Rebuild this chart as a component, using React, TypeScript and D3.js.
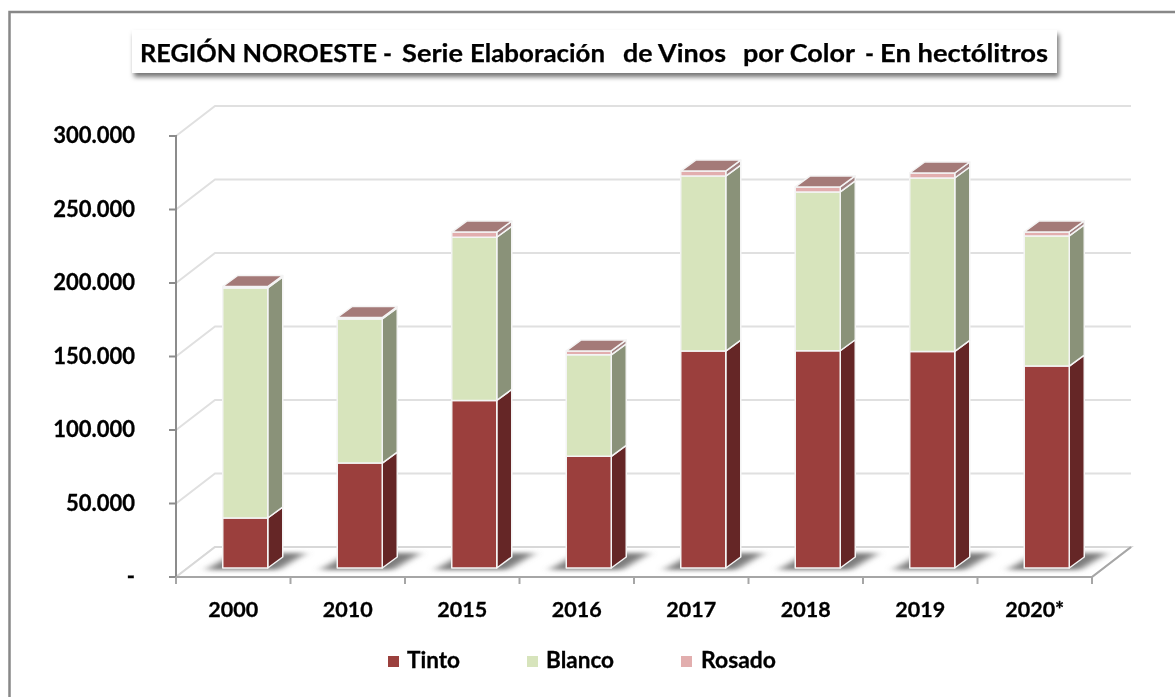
import React from "react";
import * as d3 from "d3";

const categories = ["2000", "2010", "2015", "2016", "2017", "2018", "2019", "2020*"];
const tinto = [34000, 71400, 114000, 76000, 147600, 147800, 147300, 137400];
const blanco = [156500, 98000, 111000, 69000, 119000, 108000, 118000, 88500];
const rosado = [1000, 1000, 3500, 2700, 3400, 3400, 3400, 2700];
const seriesNames = ["Tinto", "Blanco", "Rosado"];
const frontColors = ["#9b3f3d", "#d7e4bc", "#e2aeae"];
const sideColors = ["#652626", "#8a9279", "#a08080"];
const topColors = ["#a47a78", "#a47a78", "#a47a78"];
const yTicks = [0, 50000, 100000, 150000, 200000, 250000, 300000];
const yTickLabels = ["-", "50.000", "100.000", "150.000", "200.000", "250.000", "300.000"];
const titleParts = ["REGIÓN NOROESTE", "-", "Serie", "Elaboración", "de Vinos", "por Color", "-", "En hectólitros"];
const titlePartStart = [140, 383, 402, 470, 623, 743, 865, 880];
const titlePartEnd = [377, 392, 463, 605, 726, 855, 874, 1048];

const depthX = 39;
const depthY = -30;
const barDepthX = 15;
const barDepthY = -11;
const barShiftY = -9;
const barWidth = 45;
const barShiftX = 12;
const FONT = "Lato, sans-serif";

export default function App() {
  const x = d3.scaleBand<string>().domain(categories).range([176, 1092]);
  const y = d3.scaleLinear().domain([0, 300000]).range([577, 136]);
  const pts = (p: number[][]) => p.map((d) => d.join(",")).join(" ");
  const stack = d3
    .stack<number>()
    .keys(["0", "1", "2"])
    .value((i, k) => [tinto, blanco, rosado][+k][i])(categories.map((_, i) => i));
  const [x0, x1] = x.range();
  const y0 = y(0);
  const barX = (c: string) => x(c)! + (x.bandwidth() - barWidth) / 2 + barShiftX;

  return (
    <svg
      width={1175}
      height={697}
      style={{ position: "absolute", left: 0, top: 0, background: "#fff" }}
    >
      <defs>
        <filter id="blur" filterUnits="userSpaceOnUse" x="0" y="500" width="1175" height="120">
          <feGaussianBlur stdDeviation="5 2" />
        </filter>
        <filter id="titleShadow" x="-3%" y="-30%" width="106%" height="170%">
          <feDropShadow dx="2" dy="4" stdDeviation="2.5" floodColor="#000" floodOpacity="0.55" />
        </filter>
        <filter id="soft" filterUnits="userSpaceOnUse" x="0" y="0" width="1175" height="697">
          <feGaussianBlur stdDeviation="0.35" />
        </filter>
        <clipPath id="floorClip">
          <polygon points={pts([[x0, y0], [x0 + depthX, y0 + depthY], [x1 + depthX, y0 + depthY], [x1, y0]])} />
        </clipPath>
      </defs>

      <rect x={9.5} y={12} width={1200} height={720} fill="#fff" stroke="#888888" strokeWidth={2.5} />

      {/* back wall gridlines and left wall diagonals */}
      {yTicks.map((t) => (
        <g key={t} fill="none" stroke="#e0e0e0" strokeWidth={2}>
          <polyline points={pts([[x0, y(t)], [x0 + depthX, y(t) + depthY], [x1 + depthX, y(t) + depthY]])} />
        </g>
      ))}

      {/* floor */}
      <polygon
        points={pts([[x0, y0], [x0 + depthX, y0 + depthY], [x1 + depthX, y0 + depthY], [x1, y0]])}
        fill="#fff"
        stroke="#d8d8d8"
        strokeWidth={2}
      />
      <g clipPath="url(#floorClip)">
        {categories.map((c) => {
          const bx = barX(c);
          const by = y0 + barShiftY;
          return (
            <polygon
              key={c}
              filter="url(#blur)"
              fill="#7c7c7c"
              points={pts([
                [bx - 17, by + 2],
                [bx + barWidth + 10, by + 2],
                [bx + barWidth + 38, by - 15],
                [bx + 12, by - 15],
              ])}
            />
          );
        })}
      </g>

      {/* axes */}
      <g stroke="#8c8c8c" strokeWidth={2} fill="none">
        <line x1={x0} x2={x0} y1={y(300000) - 1} y2={y0 + 7} />
        <line x1={x0} x2={x1} y1={y0} y2={y0} stroke="#a6a6a6" />
        <line x1={x1} x2={x1 + depthX} y1={y0} y2={y0 + depthY} stroke="#a6a6a6" />
        {yTicks.map((t) => (
          <line key={t} x1={x0 - 7} x2={x0} y1={y(t)} y2={y(t)} />
        ))}
        {d3.range(categories.length + 1).map((i) => (
          <line key={i} x1={x0 + i * x.step()} x2={x0 + i * x.step()} y1={y0} y2={y0 + 7} stroke="#a6a6a6" />
        ))}
      </g>

      {/* bars */}
      {categories.map((c, i) => {
        const bx = barX(c);
        return (
          <g key={c} stroke="#f4f4f4" strokeWidth={1.5} strokeLinejoin="round">
            {stack.map((s, k) => {
              const b = y(s[i][0]) + barShiftY;
              const t = y(s[i][1]) + barShiftY;
              const isTop = k === stack.length - 1;
              return (
                <g key={k}>
                  <polygon
                    fill={sideColors[k]}
                    points={pts([
                      [bx + barWidth, b],
                      [bx + barWidth + barDepthX, b + barDepthY],
                      [bx + barWidth + barDepthX, t + barDepthY],
                      [bx + barWidth, t],
                    ])}
                  />
                  <rect x={bx} y={t} width={barWidth} height={b - t} fill={frontColors[k]} />
                  {isTop && (
                    <polygon
                      fill={topColors[k]}
                      points={pts([
                        [bx, t],
                        [bx + barDepthX, t + barDepthY],
                        [bx + barWidth + barDepthX, t + barDepthY],
                        [bx + barWidth, t],
                      ])}
                    />
                  )}
                </g>
              );
            })}
          </g>
        );
      })}

      {/* text */}
      <g fontFamily={FONT} fontWeight={700} fill="#000" stroke="#000" strokeWidth={0.3} filter="url(#soft)">
        {yTicks.map((t, i) => (
          <text key={t} x={135} y={y(t) + 7} textAnchor="end" fontSize={22}>
            {yTickLabels[i]}
          </text>
        ))}
        {categories.map((c) => (
          <text key={c} x={x(c)! + x.bandwidth() / 2} y={617} textAnchor="middle" fontSize={21.5}>
            {c}
          </text>
        ))}
      </g>

      {/* title */}
      <rect x={132} y={30} width={925} height={43} fill="#fff" filter="url(#titleShadow)" />
      <g fontFamily={FONT} fontWeight={700} fontSize={25} stroke="#000" strokeWidth={0.25} filter="url(#soft)">
        {titleParts.map((p, i) => (
          <text
            key={i}
            x={titlePartStart[i]}
            y={62}
            textLength={titlePartEnd[i] - titlePartStart[i]}
            lengthAdjust="spacingAndGlyphs"
          >
            {p}
          </text>
        ))}
      </g>

      {/* legend */}
      <g fontFamily={FONT} fontWeight={700} fontSize={22} filter="url(#soft)">
        {seriesNames.map((n, k) => {
          const lx = [388, 527, 681][k];
          return (
            <g key={n}>
              <rect x={lx} y={656} width={11} height={11} fill={frontColors[k]} />
              <text
                x={[407, 546, 701][k]}
                y={668}
                stroke="#000"
                strokeWidth={0.3}
                textLength={[53, 68, 75][k]}
                lengthAdjust="spacingAndGlyphs"
              >
                {n}
              </text>
            </g>
          );
        })}
      </g>
    </svg>
  );
}
